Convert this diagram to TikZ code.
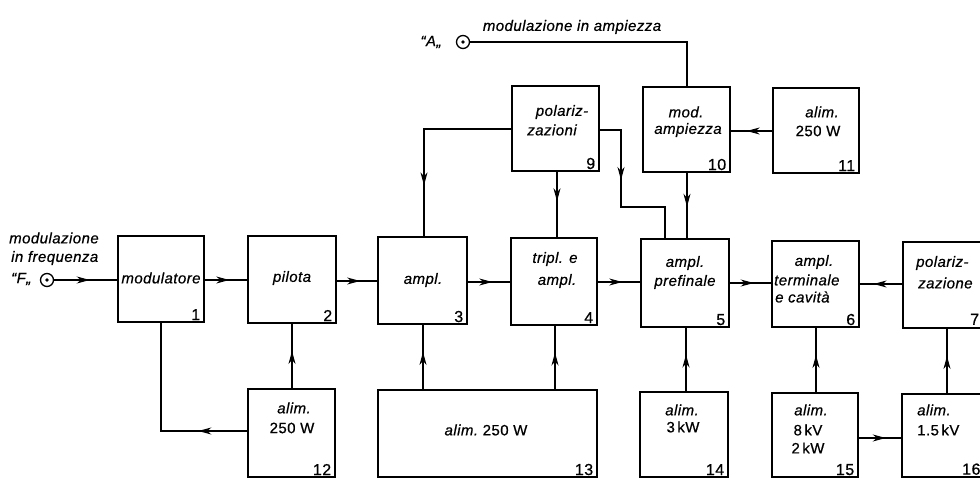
\documentclass[tikz,border=0pt]{standalone}
\usepackage{fontspec}
\setmainfont{Liberation Sans}[LetterSpace=3,FakeBold=0.6]
\usetikzlibrary{arrows.meta,decorations.markings}
\tikzset{
  box/.style={draw, line width=2.8pt, inner sep=0pt},
  conn/.style={line width=1.2pt, line join=miter},
  txt/.style={inner sep=0pt, font=\fontsize{15}{17}\selectfont\itshape},
  num/.style={inner sep=0pt, anchor=south east, font=\fontsize{16}{17}\selectfont},
  jack/.style={draw, circle, line width=1.3pt, minimum size=13pt, inner sep=0pt},
  midarrow/.style={postaction={decorate,decoration={markings,
     mark=at position #1 with {\arrow{Stealth[length=13pt,width=7pt,inset=4pt]}}}}},
  midarrow/.default=0.58,
}
\begin{document}
\begin{tikzpicture}[x=1pt,y=-1pt]
\useasboundingbox (0,0) rectangle (980,478);
\clip (0,0) rectangle (980,478);
% main row
\node[box, minimum width=86pt, minimum height=86pt] (b1) at (161,279) {};
\node[box, minimum width=88pt, minimum height=87pt] (b2) at (292,279.5) {};
\node[box, minimum width=89pt, minimum height=87pt] (b3) at (422.5,280.5) {};
\node[box, minimum width=86pt, minimum height=87pt] (b4) at (554,281.5) {};
\node[box, minimum width=88pt, minimum height=88pt] (b5) at (685,283) {};
\node[box, minimum width=87pt, minimum height=86pt] (b6) at (815.5,284) {};
\node[box, minimum width=87pt, minimum height=86pt] (b7) at (946.5,285) {};
% top row
\node[box, minimum width=87pt, minimum height=85pt] (b9) at (555.5,128.5) {};
\node[box, minimum width=87pt, minimum height=85pt] (b10) at (686.5,129.5) {};
\node[box, minimum width=86pt, minimum height=85pt] (b11) at (816,130.5) {};
% bottom row
\node[box, minimum width=87pt, minimum height=88pt] (b12) at (291.5,433) {};
\node[box, minimum width=219pt, minimum height=87pt] (b13) at (487.5,433.5) {};
\node[box, minimum width=88pt, minimum height=85pt] (b14) at (684,434.5) {};
\node[box, minimum width=86pt, minimum height=84pt] (b15) at (815,435) {};
\node[box, minimum width=87pt, minimum height=83pt] (b16) at (945.5,435.5) {};
% numbers
\node[num] (n1) at ([shift={(-5pt,3pt)}]b1.south east) {1};
\node[num] (n2) at ([shift={(-5pt,3pt)}]b2.south east) {2};
\node[num] (n3) at ([shift={(-5pt,3pt)}]b3.south east) {3};
\node[num] (n4) at ([shift={(-5pt,3pt)}]b4.south east) {4};
\node[num] (n5) at ([shift={(-5pt,3pt)}]b5.south east) {5};
\node[num] (n6) at ([shift={(-5pt,3pt)}]b6.south east) {6};
\node[num, anchor=south west] (n7) at (970,325) {7};
\node[num] (n9) at ([shift={(-5pt,3pt)}]b9.south east) {9};
\node[num] (n10) at ([shift={(-5pt,3pt)}]b10.south east) {10};
\node[num] (n11) at ([shift={(-5pt,3pt)}]b11.south east) {11};
\node[num] (n12) at ([shift={(-5pt,3pt)}]b12.south east) {12};
\node[num] (n13) at ([shift={(-5pt,3pt)}]b13.south east) {13};
\node[num] (n14) at ([shift={(-5pt,3pt)}]b14.south east) {14};
\node[num] (n15) at ([shift={(-5pt,3pt)}]b15.south east) {15};
\node[num, anchor=south west] (n16) at (962,475) {16};
% texts
\node[txt] (t1) at (161,278) {modulatore};
\node[txt] (t2) at (292,278) {pilota};
\node[txt] (t3) at (423,280) {ampl.};
\node[txt] (t4a) at (555,259) {tripl. e};
\node[txt] (t4b) at (557,281) {ampl.};
\node[txt] (t5a) at (685,263) {ampl.};
\node[txt] (t5b) at (685,282) {prefinale};
\node[txt] (t6a) at (814,262) {ampl.};
\node[txt, anchor=west] (t6b) at (774,280) {terminale};
\node[txt, anchor=west] (t6c) at (775,297) {e cavità};
\node[txt, anchor=west] (t7a) at (916,263) {polariz-};
\node[txt, anchor=west] (t7b) at (918,283) {zazione};
\node[txt] (t9a) at (562,112) {polariz-};
\node[txt] (t9b) at (552,130) {zazioni};
\node[txt] (t10a) at (686,112) {mod.};
\node[txt] (t10b) at (688,130) {ampiezza};
\node[txt] (t11a) at (822,112) {alim.};
\node[txt] (t11b) at (818,131) {\upshape 250 W};
\node[txt] (t12a) at (294,408) {alim.};
\node[txt] (t12b) at (292,428) {\upshape 250 W};
\node[txt] (t13) at (486,430) {alim.\ \upshape 250 W};
\node[txt] (t14a) at (682,410) {alim.};
\node[txt] (t14b) at (683,427) {\upshape 3\,kW};
\node[txt] (t15a) at (811,410) {alim.};
\node[txt] (t15b) at (808,430) {\upshape 8\,kV};
\node[txt] (t15c) at (808,448) {\upshape 2\,kW};
\node[txt, anchor=west] (t16a) at (917,410) {alim.};
\node[txt, anchor=west] (t16b) at (917,430) {\upshape 1.5\,kV};
% input labels
\node[txt, anchor=west] (lf1) at (9,238) {modulazione};
\node[txt, anchor=west] (lf2) at (11,258) {in frequenza};
\node[txt, anchor=west] (lf3) at (11,279) {“F„};
\node[txt] (la1) at (572,27) {modulazione in ampiezza};
\node[txt] (la2) at (431,42) {“A„};
% jacks
\node[jack] (F) at (47,280) {};
\fill (F) circle (1.9pt);
\node[jack] (A) at (463,42) {};
\fill (A) circle (1.9pt);
\coordinate (cA) at (687,42);
\coordinate (c12) at (161,431);
\coordinate (c9l) at (424,129);
\coordinate (c9r1) at (621,130);
\coordinate (c9r2) at (621,207);
\coordinate (c9r3) at (665,207);
% connectors
\draw[conn, midarrow=0.57] (F.east) -- (b1.west |- F.east);
\draw[conn, midarrow] (b1.east |- 0,280) -- (b2.west |- 0,280);
\draw[conn, midarrow] (b2.east |- 0,281) -- (b3.west |- 0,281);
\draw[conn, midarrow] (b3.east |- 0,282) -- (b4.west |- 0,282);
\draw[conn, midarrow] (b4.east |- 0,282) -- (b5.west |- 0,282);
\draw[conn, midarrow] (b5.east |- 0,283) -- (b6.west |- 0,283);
\draw[conn, midarrow=0.68] (b7.west |- 0,284) -- (b6.east |- 0,284);
\draw[conn] (A.east) -- (cA) -- (b10.north -| cA);
\draw[conn, midarrow=0.62] (b11.west |- 0,131) -- (b10.east |- 0,131);
\draw[conn, midarrow=0.52] (b10.south -| 687,0) -- (b5.north -| 687,0);
\draw[conn, midarrow=0.45] (b9.south -| 557,0) -- (b4.north -| 557,0);
\draw[conn, midarrow=0.74] (b9.west |- c9l) -- (c9l) -- (b3.north -| c9l);
\draw[conn, midarrow=0.41] (b9.east |- c9r1) -- (c9r1) -- (c9r2) -- (c9r3) -- (b5.north -| c9r3);
\draw[conn, midarrow=0.25] (b12.west |- c12) -- (c12) -- (b1.south -| c12);
\draw[conn, midarrow] (b12.north -| 292,0) -- (b2.south -| 292,0);
\draw[conn, midarrow] (b13.north -| 423,0) -- (b3.south -| 423,0);
\draw[conn, midarrow] (b13.north -| 555,0) -- (b4.south -| 555,0);
\draw[conn, midarrow] (b14.north -| 686,0) -- (b5.south -| 686,0);
\draw[conn, midarrow] (b15.north -| 816,0) -- (b6.south -| 816,0);
\draw[conn, midarrow] (b16.north -| 947,0) -- (b7.south -| 947,0);
\draw[conn, midarrow=0.64] (b15.east |- 0,438) -- (b16.west |- 0,438);
\end{tikzpicture}
\end{document}
